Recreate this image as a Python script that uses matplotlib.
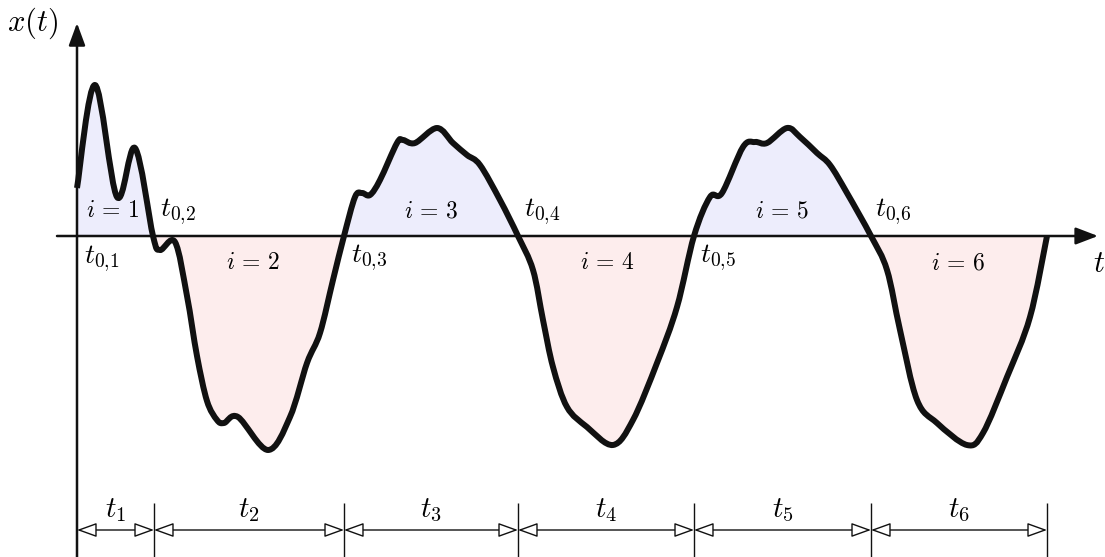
import numpy as np
import matplotlib.pyplot as plt
from matplotlib.path import Path
from matplotlib.patches import PathPatch, Rectangle

plt.rcParams['mathtext.fontset'] = 'cm'

# signal samples x(t) along the curve
t_pts = [0, 18, 40, 58, 76, 83, 98, 110, 120, 130, 140, 147, 161, 191, 213, 230, 243, 256,
         267, 278, 285, 293, 303, 320, 326, 338, 360, 376, 390, 403, 423, 441,
         456, 466, 476, 490, 510, 536, 556, 580, 600, 617,
         633, 645, 666, 678, 690, 710, 723, 740, 753, 770, 794,
         810, 823, 840, 860, 890, 906, 930, 953, 970]
x_pts = [48, 151, 39, 88, 0, -14, -6, -60, -120, -165, -184, -187, -181, -214, -181, -127, -97, -44,
         0, 39, 43, 41, 56, 93, 96, 93, 108, 93, 81, 71, 36, 0,
         -34, -84, -131, -171, -191, -209, -184, -127, -71, 0,
         39, 43, 89, 94, 93, 108, 99, 83, 71, 43, 0,
         -34, -94, -164, -187, -209, -197, -141, -81, 0]

# zero crossings and interval bounds
t_zero = [0, 77, 267, 441, 617, 794]
t_end = 970
zero_lbl = [r'$t_{0{,}1}$', r'$t_{0{,}2}$', r'$t_{0{,}3}$', r'$t_{0{,}4}$', r'$t_{0{,}5}$', r'$t_{0{,}6}$']
int_lbl = [r'$i\,=\,1$', r'$i\,=\,2$', r'$i\,=\,3$', r'$i\,=\,4$', r'$i\,=\,5$', r'$i\,=\,6$']
dur_lbl = [r'$t_1$', r'$t_2$', r'$t_3$', r'$t_4$', r'$t_5$', r'$t_6$']


def smooth_path(t, x):
    # Catmull-Rom segments written as cubic Bezier pieces
    p = np.column_stack([t, x]).astype(float)
    p = np.vstack([p[0], p, p[-1]])
    verts = [p[1]]
    codes = [Path.MOVETO]
    for k in range(1, len(p) - 2):
        c1 = p[k] + (p[k + 1] - p[k - 1]) / 6.0
        c2 = p[k + 1] - (p[k + 2] - p[k]) / 6.0
        verts += [c1, c2, p[k + 1]]
        codes += [Path.CURVE4] * 3
    return verts, codes


fig = plt.figure(figsize=(11.05, 5.57), dpi=100)
ax = fig.add_axes([0, 0, 1, 1])
ax.set_xlim(-77, 1028)
ax.set_ylim(-321, 236)
ax.axis('off')

verts, codes = smooth_path(t_pts, x_pts)

# shaded areas between curve and time axis
fill_verts = verts + [(t_end, 0), (0, 0), (0, 0)]
fill_codes = codes + [Path.LINETO, Path.LINETO, Path.CLOSEPOLY]
fill_path = Path(fill_verts, fill_codes)
for color, y0 in [('#ededfc', 0), ('#fdeded', -400)]:
    patch = PathPatch(fill_path, facecolor=color, edgecolor='none', zorder=1)
    ax.add_patch(patch)
    patch.set_clip_path(Rectangle((-100, y0), 1200, 400, transform=ax.transData))

# axes with arrow heads
ax.annotate('', xy=(0, 213), xytext=(0, -321),
            arrowprops=dict(arrowstyle='-|>,head_length=0.68,head_width=0.25', color='#111111',
                            lw=1.8, shrinkA=0, shrinkB=0, mutation_scale=20), zorder=2)
ax.annotate('', xy=(1021, 0), xytext=(-20, 0),
            arrowprops=dict(arrowstyle='-|>,head_length=0.68,head_width=0.26', color='#111111',
                            lw=1.8, shrinkA=0, shrinkB=0, mutation_scale=20), zorder=2)

# the signal
ax.add_patch(PathPatch(Path(verts, codes), facecolor='none', edgecolor='#111111',
                       lw=4.3, capstyle='butt', joinstyle='round', zorder=3))

ax.text(-44, 213, r'$x(t)$', fontsize=22, ha='center', va='center')
ax.text(1022, -27, r'$t$', fontsize=22, ha='center', va='center')

# crossing and interval labels
zero_pos = [(25, -23), (101, 24), (292, -22), (465, 24), (641, -22), (816, 24)]
int_pos = [(36, 26), (176, -26), (354, 25), (530, -26), (705, 25), (881, -26)]
for lbl, (tx, xx) in zip(zero_lbl, zero_pos):
    ax.text(tx, xx, lbl, fontsize=20, ha='center', va='center')
for lbl, (tx, xx) in zip(int_lbl, int_pos):
    ax.text(tx, xx, lbl, fontsize=17, ha='center', va='center')

# durations between crossings
bounds = t_zero + [t_end]
ax.vlines(bounds[1:], -321, -267, color='#111111', lw=1.0)
for k in range(len(dur_lbl)):
    a, b = bounds[k], bounds[k + 1]
    ax.annotate('', xy=(b, -294), xytext=(a, -294),
                arrowprops=dict(arrowstyle='<|-|>,head_length=0.61,head_width=0.22',
                                fc='white', ec='#111111', lw=1.0,
                                shrinkA=0, shrinkB=0, mutation_scale=20))
    ax.text((a + b) / 2, -274, dur_lbl[k], fontsize=21, ha='center', va='center')

fig.savefig('out.png', dpi=100)
